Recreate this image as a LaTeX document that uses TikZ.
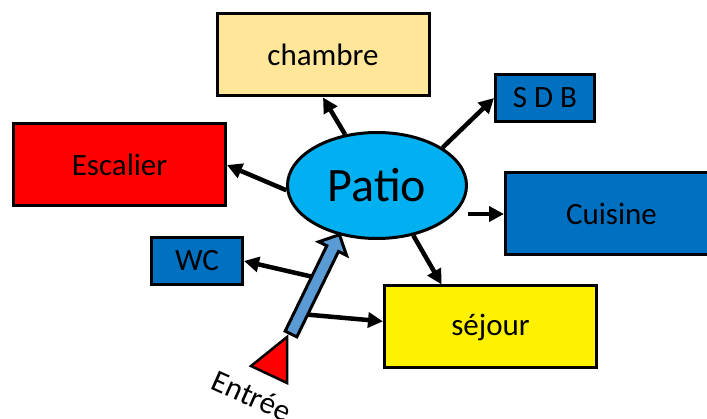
\documentclass[tikz,border=0pt]{standalone}
\usepackage{fontspec}
\setmainfont{Carlito}
\usepackage{xcolor}
\usepackage{tikz}
\usetikzlibrary{positioning,shapes.geometric,arrows.meta,calc}

\definecolor{chambreC}{HTML}{FFE699}
\definecolor{bleuC}{HTML}{0070C0}
\definecolor{patioC}{HTML}{00B0F0}
\definecolor{barC}{HTML}{5B9BD5}

\begin{document}
\begin{tikzpicture}[
    x=1pt, y=-1pt,
    font=\fontsize{31}{34}\selectfont,
    b/.style={draw, line width=3pt, inner sep=0pt},
    piece/.style={b, minimum width=212pt, minimum height=82pt},
    petit/.style={b, fill=bleuC, minimum height=47pt},
    fl/.style={-{Triangle[length=15pt, width=15pt]}, line width=4.5pt},
    bar/.style={draw, line width=3pt, fill=barC, line join=miter},
]
    \path[use as bounding box, clip] (0,0) rectangle (707,419);
    % pieces
    \node[piece, fill=chambreC] (chambre) at (323,55) {chambre};
    \node[piece, fill=red] (escalier) at (119.5,165) {Escalier};
    \node[piece, fill=bleuC] (cuisine) at (611.5,214) {Cuisine};
    \node[piece, fill=yellow] (sejour) at (490.5,327) {séjour};
    \node[petit, minimum width=99pt] (sdb) at (545,98) {S D B};
    \node[petit, minimum width=91pt] (wc) at (197,261) {WC};
    \node[ellipse, draw, line width=3pt, fill=patioC, inner sep=0pt,
          minimum width=179pt, minimum height=106pt,
          font=\fontsize{48}{52}\selectfont] (patio) at (377,185.5) {Patio};
    % entree
    \coordinate (base) at (291,334);
    \coordinate (tip) at (338.5,234);
    \coordinate (e1) at ($(base)!0.56!(tip)$);
    \coordinate (e2) at ($(base)!0.2!(tip)$);
    \draw[fl] (patio.122) -- (chambre.south);
    \draw[fl] (patio.30) -- (sdb.west);
    \draw[fl] (patio.183) -- (escalier.east);
    \draw[fl] (patio.east |- cuisine.west) -- (cuisine.west);
    \draw[fl] (patio.-54) -- (sejour.139);
    \draw[fl] (e1) -- (wc.east);
    \draw[fl] (e2) -- (sejour.177);
    \begin{scope}[shift={(base)}, rotate=64]
        \draw[bar] (0,-6.5) -- (95,-6.5) -- (95,-15.5) -- (110.5,0)
            -- (95,15.5) -- (95,6.5) -- (0,6.5) -- cycle;
    \end{scope}
    \draw[line width=2.5pt, fill=red, line join=miter] (287,337) -- (287,383) -- (251,366) -- cycle;
    \node[rotate=-24] (entree) at (252,396) {Entrée};
\end{tikzpicture}
\end{document}
